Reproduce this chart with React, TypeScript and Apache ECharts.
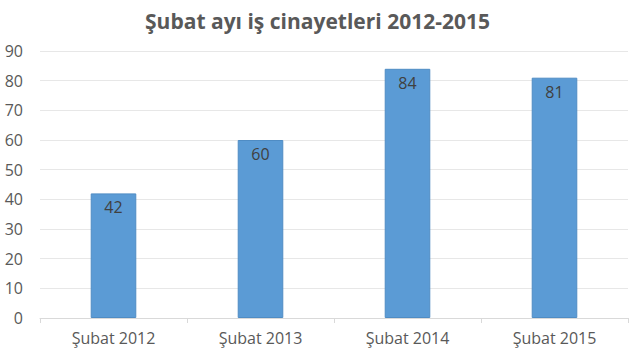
import React, { useEffect, useRef } from "react";
import * as echarts from "echarts";

const titleText = "Şubat ayı iş cinayetleri 2012-2015";
const categories = ["Şubat 2012", "Şubat 2013", "Şubat 2014", "Şubat 2015"];
const values = [42, 60, 84, 81];
const yMin = 0;
const yMax = 90;
const yInterval = 10;

const FONT = "'Open Sans', 'Noto Sans', sans-serif";

export default function App() {
  const ref = useRef<HTMLDivElement>(null);
  useEffect(() => {
    if (!ref.current) return;
    const chart = echarts.init(ref.current, null, { renderer: "svg" });
    chart.setOption({
      animation: false,
      backgroundColor: "#ffffff",
      title: {
        text: titleText,
        left: "center",
        top: 5,
        textStyle: {
          fontFamily: FONT,
          fontSize: 21,
          fontWeight: "bold",
          color: "#595959",
        },
      },
      grid: { left: 40, right: 7, top: 51, bottom: 39, containLabel: false },
      xAxis: {
        type: "category",
        data: categories,
        axisLine: { show: true, lineStyle: { color: "#d9d9d9", width: 1 } },
        axisTick: { show: true, alignWithLabel: false, length: 5, lineStyle: { color: "#d9d9d9" } },
        axisLabel: { fontFamily: FONT, fontSize: 16, color: "#595959", margin: 12 },
      },
      yAxis: {
        type: "value",
        min: yMin,
        max: yMax,
        interval: yInterval,
        axisLine: { show: false },
        axisTick: { show: false },
        axisLabel: { fontFamily: FONT, fontSize: 16, color: "#595959", margin: 17 },
        splitLine: { lineStyle: { color: "#e7e7e7", width: 1 } },
      },
      series: [
        {
          type: "bar",
          data: values,
          barWidth: "31%",
          itemStyle: { color: "#5b9bd5", borderColor: "#4f8cc4", borderWidth: 1 },
          label: {
            show: true,
            position: "insideTop",
            distance: 6,
            fontFamily: FONT,
            fontSize: 16,
            color: "#404040",
          },
        },
      ],
    });
    return () => chart.dispose();
  }, []);
  return <div ref={ref} style={{ width: 635, height: 357, position: "absolute", left: 0, top: 0 }} />;
}
